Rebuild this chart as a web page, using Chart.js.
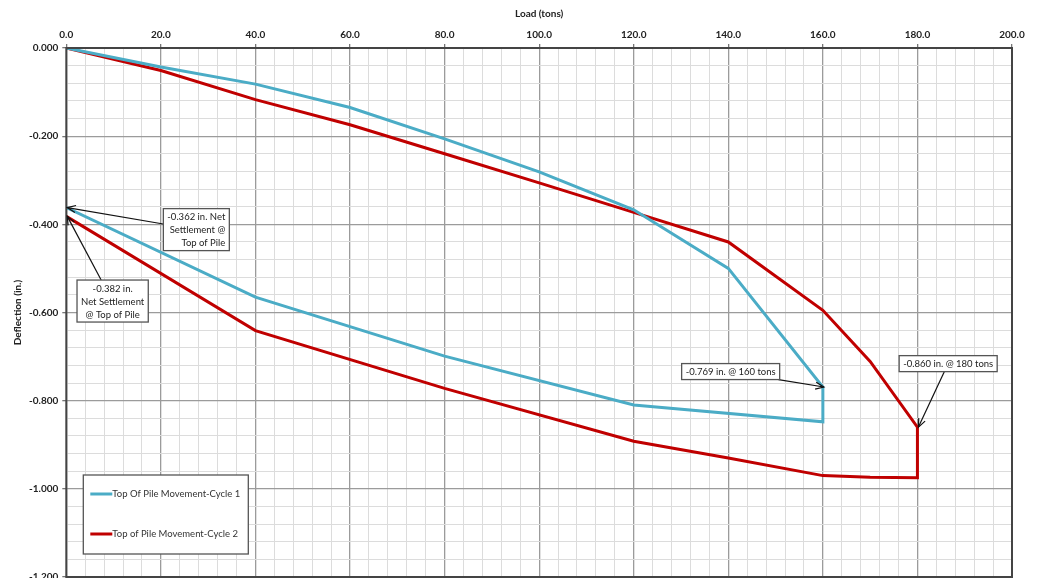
<!DOCTYPE html>
<html>
<head>
<meta charset="utf-8">
<script src="https://cdn.jsdelivr.net/npm/chart.js@4.4.1/dist/chart.umd.min.js"></script>
<style>
    html, body { margin: 0; padding: 0; background: #fff; overflow: hidden; }
    #wrap { width: 1039px; height: 600px; }
</style>
</head>
<body>
<div id="wrap"><canvas id="pile-chart" width="1039" height="600"></canvas></div>
<script>
// Load (tons) / deflection (in.)
const loadCycle1 = [0, 20, 40, 60, 80, 100, 120, 140, 160, 160, 120, 80, 40, 0];
const deflCycle1 = [0, -0.043, -0.082, -0.135, -0.206, -0.281, -0.367, -0.500, -0.769, -0.848, -0.810, -0.699, -0.565, -0.362];

const loadCycle2 = [0, 20, 40, 60, 80, 100, 120, 140, 160, 170, 180, 180, 170, 160, 140, 120, 80, 40, 0];
const deflCycle2 = [0, -0.051, -0.117, -0.174, -0.240, -0.306, -0.373, -0.440, -0.595, -0.711, -0.860, -0.975, -0.974, -0.970, -0.930, -0.892, -0.772, -0.641, -0.382];

const seriesLabels = ['Top Of Pile Movement-Cycle 1', 'Top of Pile Movement-Cycle 2'];

// callouts: arrow tip at a data point, box centre in data units
const callouts = [
    { text: ['-0.362 in. Net', 'Settlement @', 'Top of Pile'], tip: [0, -0.362], box: [27.5, -0.412], align: 'right' },
    { text: ['-0.382 in.', 'Net Settlement', '@ Top of Pile'], tip: [0, -0.382], box: [9.8, -0.574], align: 'center' },
    { text: ['-0.769 in. @ 160 tons'], tip: [160, -0.769], box: [140.5, -0.734], align: 'center' },
    { text: ['-0.860 in. @ 180 tons'], tip: [180, -0.860], box: [186.5, -0.716], align: 'center' }
];

const FONT = 'Lato, "Open Sans", sans-serif';

function toPoints(xs, ys) {
    return xs.map((x, i) => ({ x: x, y: ys[i] }));
}

function isMajorX(v) { return Math.round(v) % 20 === 0; }
function isMajorY(v) { return Math.round(Math.abs(v) * 1000) % 200 === 0; }

const framePlugin = {
    id: 'frame',
    afterDatasetsDraw(chart) {
        const ctx = chart.ctx;
        const a = chart.chartArea;
        ctx.save();
        ctx.strokeStyle = '#444';
        ctx.lineWidth = 2;
        ctx.strokeRect(a.left, a.top, a.right - a.left, a.bottom - a.top);
        ctx.restore();
    }
};

function drawArrow(ctx, x1, y1, x2, y2) {
    const ang = Math.atan2(y2 - y1, x2 - x1);
    ctx.beginPath();
    ctx.moveTo(x1, y1);
    ctx.lineTo(x2, y2);
    ctx.stroke();
    ctx.beginPath();
    ctx.moveTo(x2 - 9 * Math.cos(ang - 0.4), y2 - 9 * Math.sin(ang - 0.4));
    ctx.lineTo(x2, y2);
    ctx.lineTo(x2 - 9 * Math.cos(ang + 0.4), y2 - 9 * Math.sin(ang + 0.4));
    ctx.stroke();
}

const calloutPlugin = {
    id: 'callouts',
    afterDatasetsDraw(chart) {
        const ctx = chart.ctx;
        const xs = chart.scales.x;
        const ys = chart.scales.y;
        ctx.save();
        ctx.font = '9.5px ' + FONT;
        callouts.forEach(c => {
            const lh = 13;
            const w = Math.max(...c.text.map(t => ctx.measureText(t).width)) + 8;
            const h = c.text.length * lh + 3;
            const cx = xs.getPixelForValue(c.box[0]);
            const cy = ys.getPixelForValue(c.box[1]);
            const tx = xs.getPixelForValue(c.tip[0]);
            const ty = ys.getPixelForValue(c.tip[1]);
            // where the centre-to-tip line leaves the box
            const dx = tx - cx, dy = ty - cy;
            const s = Math.min((w / 2) / Math.abs(dx || 1e-6), (h / 2) / Math.abs(dy || 1e-6));
            ctx.strokeStyle = '#111';
            ctx.lineWidth = 1.2;
            drawArrow(ctx, cx + dx * s, cy + dy * s, tx + 1, ty);
            ctx.fillStyle = '#fff';
            ctx.fillRect(cx - w / 2, cy - h / 2, w, h);
            ctx.strokeStyle = '#555';
            ctx.lineWidth = 1.3;
            ctx.strokeRect(cx - w / 2, cy - h / 2, w, h);
            ctx.fillStyle = '#222';
            ctx.textBaseline = 'middle';
            c.text.forEach((t, i) => {
                const yy = cy - h / 2 + 2 + lh * (i + 0.5);
                if (c.align === 'right') {
                    ctx.textAlign = 'right';
                    ctx.fillText(t, cx + w / 2 - 4, yy);
                } else {
                    ctx.textAlign = 'center';
                    ctx.fillText(t, cx, yy);
                }
            });
        });
        ctx.restore();
    }
};

const legendPlugin = {
    id: 'boxLegend',
    afterDatasetsDraw(chart) {
        const ctx = chart.ctx;
        const a = chart.chartArea;
        const left = a.left + 17, top = a.top + 427, w = 165, h = 79;
        ctx.save();
        ctx.fillStyle = '#fff';
        ctx.fillRect(left, top, w, h);
        ctx.strokeStyle = '#555';
        ctx.lineWidth = 1.3;
        ctx.strokeRect(left, top, w, h);
        ctx.font = '9.5px ' + FONT;
        ctx.textBaseline = 'middle';
        ctx.textAlign = 'left';
        chart.data.datasets.forEach((ds, i) => {
            const yy = top + 19 + i * 40;
            ctx.strokeStyle = ds.borderColor;
            ctx.lineWidth = 3;
            ctx.beginPath();
            ctx.moveTo(left + 7, yy);
            ctx.lineTo(left + 29, yy);
            ctx.stroke();
            ctx.fillStyle = '#333';
            ctx.fillText(ds.label, left + 29, yy);
        });
        ctx.restore();
    }
};

const ctx = document.getElementById('pile-chart').getContext('2d');
new Chart(ctx, {
    type: 'scatter',
    data: {
        datasets: [
            {
                label: seriesLabels[0],
                data: toPoints(loadCycle1, deflCycle1),
                borderColor: '#4bacc6',
                showLine: true,
                borderWidth: 3,
                pointRadius: 0,
                tension: 0
            },
            {
                label: seriesLabels[1],
                data: toPoints(loadCycle2, deflCycle2),
                borderColor: '#c00000',
                showLine: true,
                borderWidth: 3,
                pointRadius: 0,
                tension: 0
            }
        ]
    },
    options: {
        responsive: false,
        animation: false,
        layout: { padding: { top: 8, right: 27, bottom: 23, left: 12 } },
        scales: {
            x: {
                type: 'linear',
                position: 'top',
                min: 0,
                max: 200,
                border: { display: false },
                ticks: {
                    stepSize: 4,
                    autoSkip: false,
                    maxRotation: 0,
                    padding: 3,
                    color: '#222',
                    font: { family: FONT, size: 10, weight: 'bold' },
                    callback: v => isMajorX(v) ? v.toFixed(1) : ''
                },
                grid: {
                    color: c => isMajorX(c.tick.value) ? '#9b9b9b' : '#dcdcdc',
                    lineWidth: c => isMajorX(c.tick.value) ? 1.3 : 1,
                    tickColor: c => isMajorX(c.tick.value) ? '#777' : 'rgba(0,0,0,0)',
                    tickLength: 4
                },
                title: {
                    display: true,
                    text: 'Load (tons)',
                    color: '#222',
                    font: { family: FONT, size: 10, weight: 'bold' },
                    padding: { top: 0, bottom: 6 }
                }
            },
            y: {
                type: 'linear',
                min: -1.2,
                max: 0,
                border: { display: false },
                ticks: {
                    stepSize: 0.04,
                    autoSkip: false,
                    padding: 4,
                    color: '#222',
                    font: { family: FONT, size: 10, weight: 'bold' },
                    callback: v => isMajorY(v) ? (Math.abs(v) < 1e-9 ? '0.000' : v.toFixed(3)) : ''
                },
                grid: {
                    color: c => isMajorY(c.tick.value) ? '#9b9b9b' : '#dcdcdc',
                    lineWidth: c => isMajorY(c.tick.value) ? 1.3 : 1,
                    tickColor: c => isMajorY(c.tick.value) ? '#777' : 'rgba(0,0,0,0)',
                    tickLength: 4
                },
                title: {
                    display: true,
                    text: 'Deflection (in.)',
                    color: '#222',
                    font: { family: FONT, size: 10, weight: 'bold' },
                    padding: { top: 0, bottom: 1 }
                }
            }
        },
        plugins: {
            legend: { display: false },
            tooltip: { enabled: false }
        }
    },
    plugins: [framePlugin, calloutPlugin, legendPlugin]
});
</script>
</body>
</html>
